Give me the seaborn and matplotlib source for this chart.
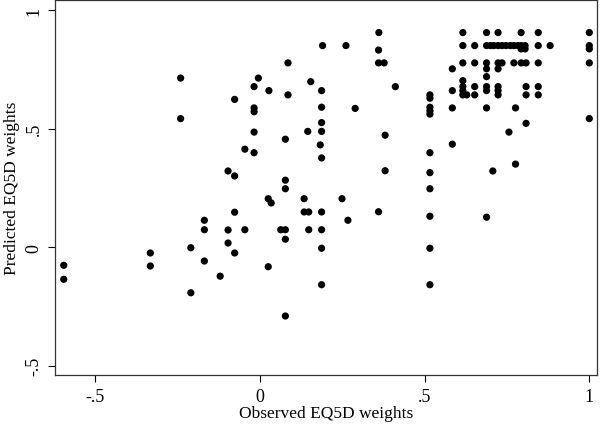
import matplotlib
matplotlib.use("Agg")
import matplotlib.pyplot as plt
import seaborn as sns
import pandas as pd

observed = [
    -0.596, -0.596, -0.333, -0.333, -0.241, -0.241, -0.210, -0.210,
    -0.169, -0.169, -0.169, -0.121, -0.097, -0.097, -0.097,
    -0.077, -0.077, -0.077, -0.077, -0.046, -0.046,
    -0.018, -0.018, -0.018, -0.018, -0.018, -0.005,
    0.027, 0.025, 0.034, 0.025, 0.063, 0.077, 0.077, 0.077, 0.077, 0.077, 0.077,
    0.085, 0.085, 0.134, 0.134, 0.148, 0.148, 0.145, 0.154,
    0.187, 0.187, 0.187, 0.187, 0.183, 0.187, 0.187, 0.187, 0.187, 0.187, 0.190,
    0.249, 0.261, 0.267, 0.289, 0.361, 0.360, 0.360, 0.377, 0.360, 0.380, 0.380, 0.411,
    0.516, 0.516, 0.516, 0.516, 0.516, 0.516, 0.516, 0.516, 0.516, 0.516, 0.516,
    0.688,
    0.584, 0.584, 0.584, 0.584,
    0.616, 0.616, 0.616, 0.616, 0.616, 0.616, 0.616,
    0.628,
    0.652, 0.652, 0.652, 0.652,
    0.688, 0.688, 0.688, 0.688, 0.688, 0.688, 0.688, 0.688,
    0.700, 0.710, 0.707,
    0.723, 0.723, 0.723, 0.723, 0.723, 0.723, 0.723,
    0.735, 0.735, 0.747, 0.756, 0.760,
    0.771, 0.771, 0.776, 0.776, 0.783,
    0.793, 0.793, 0.793, 0.793,
    0.805, 0.805,
    0.808, 0.808, 0.808, 0.808,
    0.845, 0.845, 0.845, 0.845, 0.845,
    0.881,
    1.0, 1.0, 1.0, 1.0, 1.0,
]

predicted = [
    -0.076, -0.135, -0.024, -0.079, 0.714, 0.543, -0.002, -0.192,
    0.114, 0.074, -0.058, -0.122, 0.322, 0.073, 0.018,
    0.624, 0.301, 0.148, -0.024, 0.414, 0.074,
    0.588, 0.572, 0.678, 0.486, 0.399, 0.714,
    0.661, 0.205, 0.187, -0.082, 0.074, 0.074, 0.034, -0.290, 0.283, 0.247, 0.456,
    0.643, 0.778, 0.205, 0.149, 0.149, 0.074, 0.489, 0.699,
    0.661, 0.591, 0.526, 0.489, 0.432, 0.377, 0.149, 0.074, -0.004, -0.158, 0.851,
    0.205, 0.851, 0.114, 0.586, 0.906, 0.832, 0.778, 0.778, 0.150, 0.473, 0.323, 0.678,
    0.643, 0.629, 0.591, 0.576, 0.562, 0.399, 0.315, 0.247, 0.131, -0.004, -0.158,
    0.127,
    0.753, 0.661, 0.588, 0.435,
    0.906, 0.851, 0.778, 0.703, 0.678, 0.661, 0.643,
    0.643,
    0.851, 0.778, 0.678, 0.643,
    0.906, 0.851, 0.778, 0.753, 0.720, 0.678, 0.661, 0.588,
    0.851, 0.851, 0.322,
    0.906, 0.851, 0.778, 0.753, 0.678, 0.661, 0.643,
    0.851, 0.778, 0.851, 0.486, 0.851,
    0.851, 0.778, 0.588, 0.351, 0.851,
    0.906, 0.851, 0.837, 0.778,
    0.851, 0.837,
    0.778, 0.678, 0.643, 0.523,
    0.906, 0.851, 0.778, 0.678, 0.643,
    0.851,
    0.906, 0.851, 0.837, 0.778, 0.543,
]

x_ticks = [-0.5, 0, 0.5, 1]
x_tick_labels = ["-.5", "0", ".5", "1"]
y_ticks = [-0.5, 0, 0.5, 1]
y_tick_labels = ["-.5", "0", ".5", "1"]

df = pd.DataFrame({"observed": observed, "predicted": predicted})

sns.set_theme(style="white")
plt.rcParams["font.family"] = ["Liberation Serif", "DejaVu Serif"]
plt.rcParams["text.color"] = "black"
plt.rcParams["axes.labelcolor"] = "black"
plt.rcParams["xtick.color"] = "black"
plt.rcParams["ytick.color"] = "black"

fig = plt.figure(figsize=(6.0, 4.27), dpi=100)
ax = fig.add_axes([0.0917, 0.1194, 0.9033, 0.8783])

sns.scatterplot(data=df, x="observed", y="predicted", ax=ax,
                color="black", s=27, linewidth=0, edgecolor="none")

ax.set_xlim(-0.6225, 1.0234)
ax.set_ylim(-0.539, 1.0435)
ax.set_xticks(x_ticks)
ax.set_xticklabels(x_tick_labels, fontsize=13)
ax.set_yticks(y_ticks)
ax.set_yticklabels(y_tick_labels, fontsize=13, rotation=90, va="center")
ax.tick_params(axis="both", direction="out", length=5, width=0.8,
               colors="black", pad=4, bottom=True, left=True)
for sp in ax.spines.values():
    sp.set_color("#333333")
    sp.set_linewidth(0.9)

ax.set_xlabel("Observed EQ5D weights", fontsize=12.5, labelpad=0)
ax.set_ylabel("Predicted EQ5D weights", fontsize=12.5, labelpad=4)

fig.savefig("out.png", dpi=100)
